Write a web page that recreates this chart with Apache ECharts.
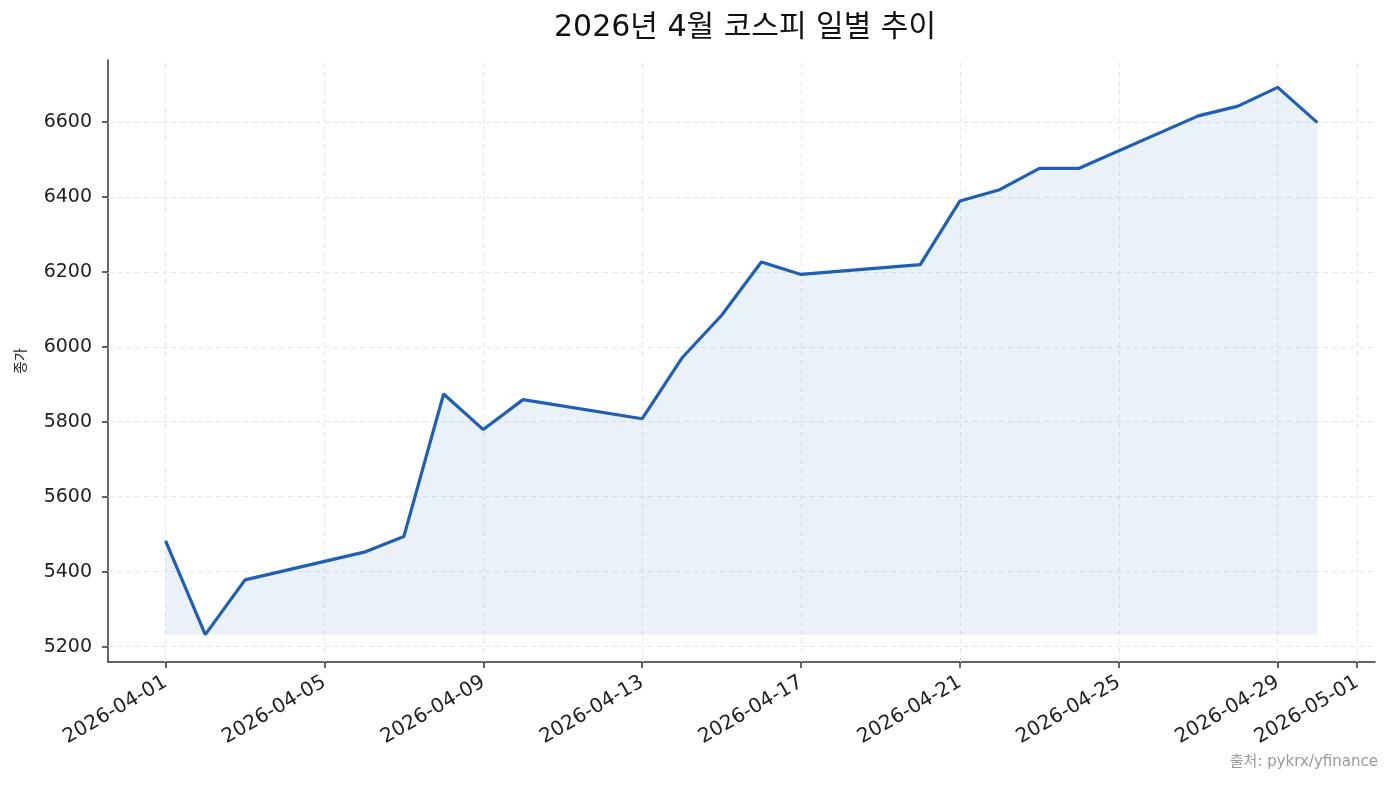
<!DOCTYPE html>
<html>
<head>
<meta charset="utf-8">
<script src="https://cdn.jsdelivr.net/npm/echarts@6/dist/echarts.min.js"></script>
<style>
  html, body { margin: 0; padding: 0; background: #fff; }
  #main { width: 1393px; height: 786px; }
</style>
</head>
<body>
<div id="main"></div>
<script>
// 거래일과 종가
const dates = [
    '2026-04-01', '2026-04-02', '2026-04-03', '2026-04-06', '2026-04-07',
    '2026-04-08', '2026-04-09', '2026-04-10', '2026-04-13', '2026-04-14',
    '2026-04-15', '2026-04-16', '2026-04-17', '2026-04-20', '2026-04-21',
    '2026-04-22', '2026-04-23', '2026-04-24', '2026-04-27', '2026-04-28',
    '2026-04-29', '2026-04-30'
];
const closes = [
    5482, 5232, 5378, 5452, 5494,
    5874, 5779, 5859, 5808, 5970,
    6084, 6226, 6193, 6219, 6389,
    6419, 6476, 6476, 6616, 6642,
    6692, 6598
];
const xTickLabels = [
    '2026-04-01', '2026-04-05', '2026-04-09', '2026-04-13', '2026-04-17',
    '2026-04-21', '2026-04-25', '2026-04-29', '2026-05-01'
];
const yTicks = [5200, 5400, 5600, 5800, 6000, 6200, 6400, 6600];

const FONT = '"DejaVu Sans", "Noto Sans CJK KR", sans-serif';

function ts(s) {
    let p = s.split('-');
    return Date.UTC(+p[0], +p[1] - 1, +p[2]);
}
function fmt(v) {
    let d = new Date(v);
    let m = d.getUTCMonth() + 1, dd = d.getUTCDate();
    return d.getUTCFullYear() + '-' + (m < 10 ? '0' + m : m) + '-' + (dd < 10 ? '0' + dd : dd);
}

let xs = dates.map(ts);
let data = xs.map((x, i) => [x, closes[i]]);
let tickVals = xTickLabels.map(ts);

// matplotlib 기본 여백 5%
let xSpan = xs[xs.length - 1] - xs[0];
let xMin = xs[0] - xSpan * 0.05;
let xMax = xs[xs.length - 1] + xSpan * 0.05;
let lo = Math.min(...closes), hi = Math.max(...closes);
let yMin = lo - (hi - lo) * 0.05;
let yMax = hi + (hi - lo) * 0.05;

let myChart = echarts.init(document.getElementById('main'));
let option = {
    animation: false,
    backgroundColor: '#fff',
    textStyle: { fontFamily: FONT },
    title: {
        text: '2026년 4월 코스피 일별 추이',
        left: 740,
        textAlign: 'center',
        top: 8,
        textStyle: { fontFamily: FONT, fontSize: 30, fontWeight: 'normal', color: '#111' }
    },
    grid: { left: 108, right: 18, top: 60, bottom: 124 },
    xAxis: {
        type: 'value',
        min: xMin,
        max: xMax,
        axisLine: { lineStyle: { color: '#333', width: 1.5 } },
        axisTick: { length: 6, lineStyle: { color: '#333', width: 1.5 }, customValues: tickVals },
        axisLabel: {
            customValues: tickVals,
            rotate: 30,
            fontSize: 20,
            color: '#222',
            margin: 19,
            fontFamily: FONT,
            formatter: v => fmt(v)
        },
        splitLine: { show: false }
    },
    yAxis: {
        type: 'value',
        min: yMin,
        max: yMax,
        name: '종가',
        nameLocation: 'middle',
        nameGap: 80,
        nameRotate: 90,
        nameTextStyle: { fontFamily: FONT, fontSize: 14, color: '#222' },
        axisLine: { show: true, lineStyle: { color: '#333', width: 1.5 } },
        axisTick: { show: true, length: 6, lineStyle: { color: '#333', width: 1.5 }, customValues: yTicks },
        axisLabel: {
            customValues: yTicks,
            fontSize: 19,
            color: '#222',
            margin: 16,
            fontFamily: FONT,
            formatter: v => String(v)
        },
        splitLine: { show: false }
    },
    graphic: [{
        type: 'text',
        right: 15,
        top: 755,
        style: { text: '출처: pykrx/yfinance', fontSize: 15, fill: '#999', fontFamily: FONT }
    }],
    series: [
        {
            // 격자선
            type: 'line',
            data: [],
            silent: true,
            z: 1,
            markLine: {
                symbol: 'none',
                silent: true,
                z: 1,
                label: { show: false },
                lineStyle: { color: '#e6e6e6', type: [5, 4], width: 1 },
                data: tickVals.map(v => ({ xAxis: v })).concat(yTicks.map(v => ({ yAxis: v })))
            }
        },
        {
            type: 'line',
            data: data,
            symbol: 'none',
            lineStyle: { color: '#1f5fb4', width: 3.2 },
            itemStyle: { color: '#1f5fb4' },
            areaStyle: { color: 'rgba(31,95,180,0.09)', opacity: 1, origin: lo },
            z: 3
        }
    ]
};
myChart.setOption(option);
</script>
</body>
</html>
